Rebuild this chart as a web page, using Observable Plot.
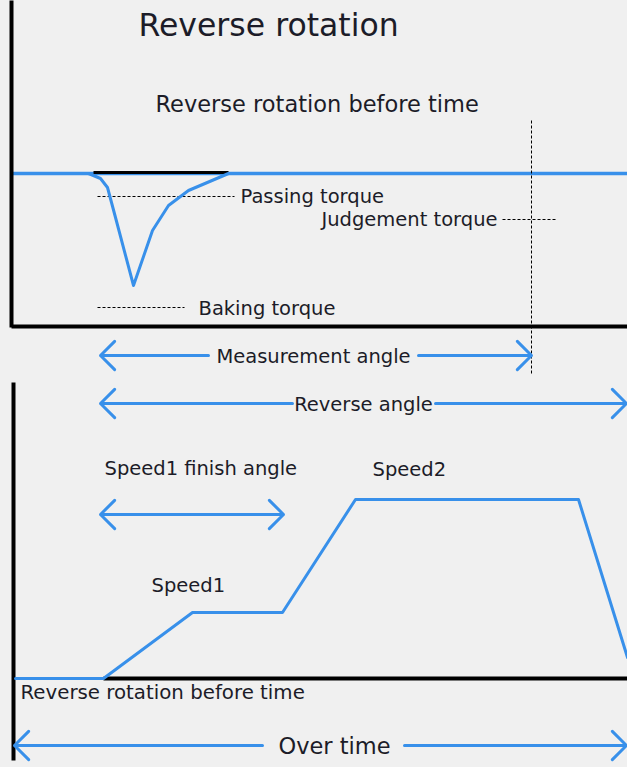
<!DOCTYPE html>
<html>
<head>
<meta charset="utf-8">
<script src="https://cdn.jsdelivr.net/npm/d3@7"></script>
<script src="https://cdn.jsdelivr.net/npm/@observablehq/plot@0.6"></script>
<style>
  html, body { margin: 0; padding: 0; background: #f0f0f0; }
  svg { display: block; }
</style>
</head>
<body>
<div id="chart"></div>
<script>
// Torque dip during reverse rotation (diagram units: angle → x, torque → y)
const torqueAngle = [88, 100, 107, 115, 133, 152, 168, 188, 228];
const torqueValue = [173, 178, 187, 217, 285, 230, 205, 190, 173];
// Speed profile over time
const speedTime  = [15, 103, 192, 282, 355, 578, 627];
const speedValue = [678, 678, 612, 612, 499, 499, 657];
// Reference levels
const baselineTorque = 173;
const passingTorque = 196;
const judgementTorque = 219;
const bakingTorque = 307;
const measurementAngleEnd = 531;
// Labels
const startLabels = [
  {t: "Reverse rotation", x: 138, y: 25, size: 31.5},
  {t: "Reverse rotation before time", x: 155, y: 104, size: 22.5},
  {t: "Passing torque", x: 240, y: 196, size: 19.5},
  {t: "Baking torque", x: 198, y: 308, size: 19.5},
  {t: "Speed1 finish angle", x: 104, y: 468, size: 19.5},
  {t: "Speed2", x: 372, y: 469, size: 19.5},
  {t: "Speed1", x: 151, y: 585, size: 19.5},
  {t: "Reverse rotation before time", x: 20, y: 692, size: 19.8}
];
const endLabels = [
  {t: "Judgement torque", x: 497, y: 219, size: 19.5}
];
const middleLabels = [
  {t: "Measurement angle", x: 313, y: 356, size: 19.5},
  {t: "Reverse angle", x: 363, y: 404, size: 19.5},
  {t: "Over time", x: 334, y: 746, size: 22.5}
];
// Double-headed arrows: [left end, left gap, right gap, right end, level]
const arrows = [
  {a: 100, b: 208, c: 418, d: 531, y: 355},
  {a: 100, b: 292, c: 435, d: 626, y: 403},
  {a: 100, b: 191, c: 191, d: 283, y: 514},
  {a: 14, b: 262, c: 404, d: 626, y: 745}
];
// Panel frames
const blackLines = [
  {x1: 11, y1: 0, x2: 11, y2: 327, w: 4},
  {x1: 11, y1: 326, x2: 627, y2: 326, w: 4},
  {x1: 93, y1: 172, x2: 228, y2: 172, w: 3},
  {x1: 13, y1: 382, x2: 13, y2: 760, w: 4},
  {x1: 103, y1: 678, x2: 627, y2: 678, w: 4}
];
const dashed = [
  {x1: 97, y1: passingTorque, x2: 234, y2: passingTorque},
  {x1: 97, y1: bakingTorque, x2: 184, y2: bakingTorque},
  {x1: 502, y1: judgementTorque, x2: 557, y2: judgementTorque},
  {x1: measurementAngleEnd, y1: 120, x2: measurementAngleEnd, y2: 373}
];

const BLUE = "#3890ea";
const INK = "#1c1c28";
const torque = torqueAngle.map((x, i) => ({x, y: torqueValue[i]}));
const speed = speedTime.map((x, i) => ({x, y: speedValue[i]}));
const arrowSegs = arrows.flatMap(r => [
  {x1: r.b, x2: r.a, y: r.y},
  {x1: r.c, x2: r.d, y: r.y}
]);
const textOpts = {x: "x", y: "y", text: "t", fontSize: "size", lineAnchor: "middle", fill: INK};

const chart = Plot.plot({
  width: 627, height: 767,
  margin: 0,
  x: {domain: [0, 627], range: [0, 627], axis: null},
  y: {domain: [0, 767], range: [0, 767], axis: null},
  style: {background: "#f0f0f0", fontFamily: "DejaVu Sans, sans-serif"},
  marks: [
    Plot.ruleY([baselineTorque], {x1: 11, x2: 627, stroke: BLUE, strokeWidth: 3.5}),
    Plot.link(blackLines, {x1: "x1", y1: "y1", x2: "x2", y2: "y2", stroke: "#000", strokeWidth: d => d.w}),
    Plot.link(dashed, {x1: "x1", y1: "y1", x2: "x2", y2: "y2", stroke: "#000", strokeWidth: 1, strokeDasharray: "3,2"}),
    Plot.line(torque, {x: "x", y: "y", stroke: BLUE, strokeWidth: 3, curve: "linear"}),
    Plot.line(speed, {x: "x", y: "y", stroke: BLUE, strokeWidth: 3, curve: "linear"}),
    Plot.arrow(arrowSegs, {x1: "x1", x2: "x2", y1: "y", y2: "y", stroke: BLUE, strokeWidth: 3, headAngle: 90, headLength: 10, inset: 0}),
    Plot.text(startLabels, {...textOpts, textAnchor: "start"}),
    Plot.text(endLabels, {...textOpts, textAnchor: "end"}),
    Plot.text(middleLabels, {...textOpts, textAnchor: "middle"})
  ]
});
document.getElementById("chart").appendChild(chart);
</script>
</body>
</html>
